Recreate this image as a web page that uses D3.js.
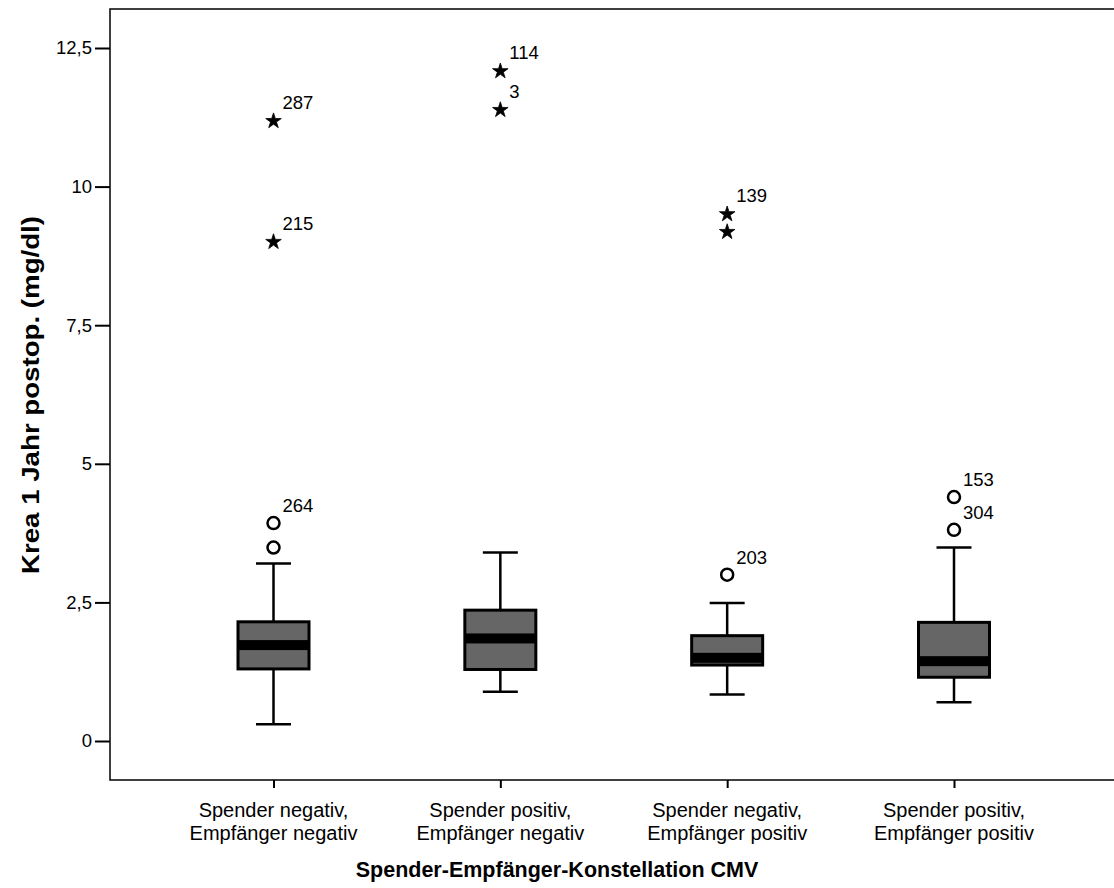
<!DOCTYPE html>
<html>
<head>
<meta charset="utf-8">
<script src="https://cdn.jsdelivr.net/npm/d3@7"></script>
<style>
  body { margin: 0; background: #fff; }
  svg { display: block; }
  text { font-family: Arial, "Liberation Sans", sans-serif; fill: #000; }
</style>
</head>
<body>
<svg id="chart" width="1114" height="888"></svg>
<script>
const categories = [
  ["Spender negativ,", "Empfänger negativ"],
  ["Spender positiv,", "Empfänger negativ"],
  ["Spender negativ,", "Empfänger positiv"],
  ["Spender positiv,", "Empfänger positiv"]
];
const whiskerLow  = [0.30, 0.89, 0.84, 0.70];
const q1          = [1.30, 1.29, 1.37, 1.15];
const median      = [1.73, 1.85, 1.50, 1.44];
const q3          = [2.15, 2.36, 1.90, 2.14];
const whiskerHigh = [3.20, 3.40, 2.49, 3.49];
// outliers: category index, value, label, type (o = circle, e = extreme star)
const outCat   = [0, 0, 0, 0, 1, 1, 2, 2, 2, 3, 3];
const outValue = [3.93, 3.49, 11.20, 9.02, 12.10, 11.40, 9.52, 9.20, 3.00, 4.40, 3.81];
const outLabel = ["264", "", "287", "215", "114", "3", "139", "", "203", "153", "304"];
const outType  = ["o", "o", "e", "e", "e", "e", "e", "e", "o", "o", "o"];
const yTicks = [0, 2.5, 5, 7.5, 10, 12.5];
const yTickLabels = ["0", "2,5", "5", "7,5", "10", "12,5"];
const xTitle = "Spender-Empfänger-Konstellation CMV";
const yTitle = "Krea 1 Jahr postop. (mg/dl)";

const svg = d3.select("#chart");
const frame = {left: 110, top: 9, right: 1116, bottom: 780};

const y = d3.scaleLinear().domain([0, 12.5]).range([741, 48]);
const x = d3.scalePoint().domain(d3.range(categories.length)).range([273.5, 954]);

// frame
svg.append("rect")
  .attr("x", frame.left).attr("y", frame.top)
  .attr("width", frame.right - frame.left).attr("height", frame.bottom - frame.top)
  .attr("fill", "none").attr("stroke", "#000").attr("stroke-width", 1.5);

// y axis
const yAxis = d3.axisLeft(y).tickValues(yTicks)
  .tickFormat((d, i) => yTickLabels[i]).tickSize(15).tickPadding(3);
const gy = svg.append("g").attr("transform", `translate(${frame.left},0)`).call(yAxis);
gy.select(".domain").remove();
gy.selectAll(".tick line").attr("stroke", "#000").attr("stroke-width", 2);
gy.selectAll(".tick text").attr("font-size", 18.5).attr("font-family", "Arial, 'Liberation Sans', sans-serif").attr("fill", "#000");

// x axis
const xAxis = d3.axisBottom(x).tickSize(8).tickFormat("");
const gx = svg.append("g").attr("transform", `translate(0,${frame.bottom})`).call(xAxis);
gx.select(".domain").remove();
gx.selectAll(".tick line").attr("stroke", "#000").attr("stroke-width", 2);

// category labels
categories.forEach((lines, i) => {
  const t = svg.append("text")
    .attr("x", x(i)).attr("y", 816.5)
    .attr("text-anchor", "middle").attr("font-size", 20);
  lines.forEach((ln, j) => {
    t.append("tspan").attr("x", x(i)).attr("dy", j === 0 ? 0 : 23.5).text(ln);
  });
});

// axis titles
svg.append("text")
  .attr("x", 557).attr("y", 877)
  .attr("text-anchor", "middle").attr("font-size", 21.5).attr("font-weight", "bold")
  .text(xTitle);
svg.append("text")
  .attr("transform", `translate(39,395) rotate(-90)`)
  .attr("text-anchor", "middle").attr("font-size", 23).attr("font-weight", "bold")
  .attr("textLength", 358).attr("lengthAdjust", "spacingAndGlyphs")
  .text(yTitle);

// boxes
const boxW = 71, capW = 35, medH = 10;
const g = svg.append("g");
categories.forEach((c, i) => {
  const cx = x(i);
  g.append("line").attr("x1", cx).attr("x2", cx)
    .attr("y1", y(whiskerHigh[i])).attr("y2", y(q3[i]))
    .attr("stroke", "#000").attr("stroke-width", 2.5);
  g.append("line").attr("x1", cx).attr("x2", cx)
    .attr("y1", y(q1[i])).attr("y2", y(whiskerLow[i]))
    .attr("stroke", "#000").attr("stroke-width", 2.5);
  [whiskerHigh[i], whiskerLow[i]].forEach(v => {
    g.append("line").attr("x1", cx - capW / 2).attr("x2", cx + capW / 2)
      .attr("y1", y(v)).attr("y2", y(v))
      .attr("stroke", "#000").attr("stroke-width", 2.5);
  });
  g.append("rect")
    .attr("x", cx - boxW / 2).attr("y", y(q3[i]))
    .attr("width", boxW).attr("height", y(q1[i]) - y(q3[i]))
    .attr("fill", "#666666").attr("stroke", "#000").attr("stroke-width", 3);
  const mTop = Math.max(y(median[i]) - medH / 2, y(q3[i]));
  const mBot = Math.min(y(median[i]) + medH / 2, y(q1[i]));
  g.append("rect")
    .attr("x", cx - boxW / 2).attr("y", mTop)
    .attr("width", boxW).attr("height", mBot - mTop)
    .attr("fill", "#000");
});

// outliers
const star = d3.symbol().type(d3.symbolStar).size(75)();
outValue.forEach((v, k) => {
  const cx = x(outCat[k]), cy = y(v);
  if (outType[k] === "o") {
    g.append("circle").attr("cx", cx).attr("cy", cy).attr("r", 6)
      .attr("fill", "#fff").attr("stroke", "#000").attr("stroke-width", 2.5);
  } else {
    g.append("path").attr("d", star)
      .attr("transform", `translate(${cx},${cy + 1})`)
      .attr("fill", "#000").attr("stroke", "#000").attr("stroke-width", 0.8);
  }
  if (outLabel[k]) {
    svg.append("text")
      .attr("x", cx + 9).attr("y", cy - 11)
      .attr("font-size", 18.5).text(outLabel[k]);
  }
});
</script>
</body>
</html>
